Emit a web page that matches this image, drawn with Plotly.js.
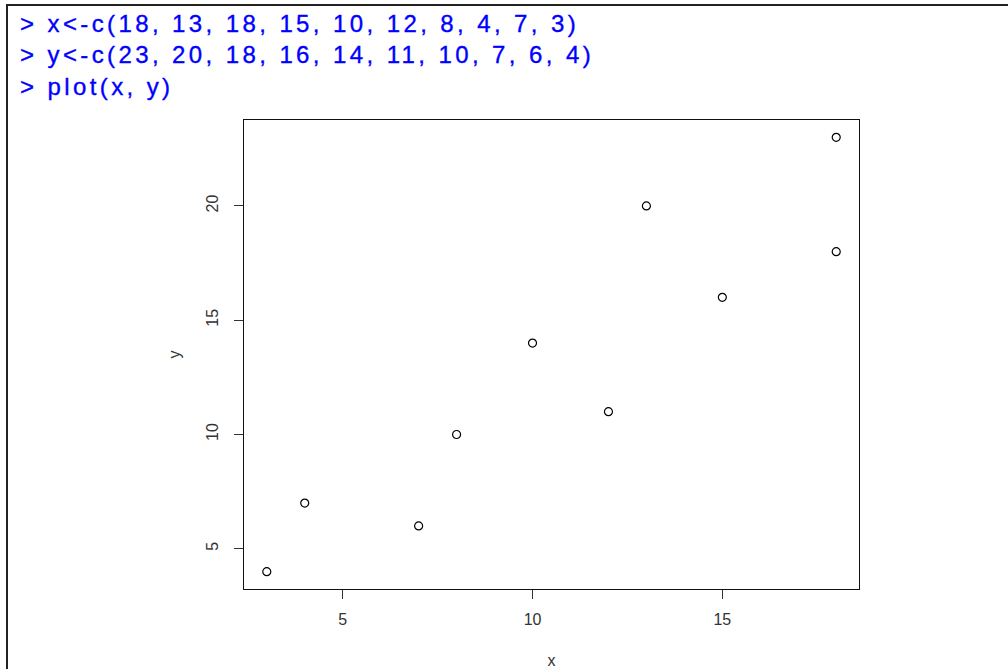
<!DOCTYPE html>
<html>
<head>
<meta charset="utf-8">
<script src="https://cdn.plot.ly/plotly-3.0.1.min.js"></script>
<style>
  html, body { margin: 0; padding: 0; background: #fff; }
  #wrap { position: relative; width: 1008px; height: 669px; }
  #chart { width: 1008px; height: 669px; }
  #frame { position: absolute; left: 6px; top: 4px; right: 0; bottom: 0;
           border-left: 2px solid #222; border-top: 2px solid #222; pointer-events: none; }
  #chart .annotation-text { letter-spacing: 3.4px; stroke: #0000ff; stroke-width: 0.35px; }
</style>
</head>
<body>
<div id="wrap">
  <div id="chart"></div>
  <div id="frame"></div>
</div>
<script>
// Data (as typed in the R console)
const xValues = [18, 13, 18, 15, 10, 12, 8, 4, 7, 3];
const yValues = [23, 20, 18, 16, 14, 11, 10, 7, 6, 4];
const xTicks = [5, 10, 15];
const yTicks = [5, 10, 15, 20];
const consoleLines = [
  "> x<-c(" + xValues.join(", ") + ")",
  "> y<-c(" + yValues.join(", ") + ")",
  "> plot(x, y)"
];

const W = 1008, H = 669;
const M = { l: 244, r: 149, t: 120, b: 80 };
const pw = W - M.l - M.r, ph = H - M.t - M.b;
const px = v => (v - M.l) / pw;
const py = v => (H - M.b - v) / ph;

// R-style 4% range extension
function rRange(arr) {
  const lo = Math.min(...arr), hi = Math.max(...arr), d = (hi - lo) * 0.04;
  return [lo - d, hi + d];
}

const FONT = 'Liberation Sans, Arial, sans-serif';

const trace = {
  x: xValues, y: yValues, type: 'scatter', mode: 'markers',
  marker: { symbol: 'circle-open', size: 8, color: '#000', line: { width: 1.2, color: '#000' } },
  hoverinfo: 'x+y'
};

const axisCommon = {
  showgrid: false, zeroline: false, showline: true, mirror: true,
  linecolor: '#111', linewidth: 1, ticks: 'outside', ticklen: 9, tickwidth: 1,
  tickcolor: '#333', tickfont: { family: FONT, size: 16, color: '#333' },
  tickmode: 'array'
};

const annotations = consoleLines.map((t, i) => ({
  text: t, xref: 'paper', yref: 'paper', x: px(18), y: py(23.5 + 31.5 * i),
  xanchor: 'left', yanchor: 'middle', align: 'left', showarrow: false,
  font: { family: FONT, size: 24, color: '#0000ff' }
}));

const layout = {
  width: W, height: H,
  margin: M,
  paper_bgcolor: '#fff', plot_bgcolor: '#fff',
  showlegend: false,
  xaxis: Object.assign({}, axisCommon, {
    range: rRange(xValues), tickvals: xTicks, ticktext: xTicks.map(String),
    ticklabelstandoff: 7,
    title: { text: 'x', standoff: 28, font: { family: FONT, size: 16, color: '#333' } }
  }),
  yaxis: Object.assign({}, axisCommon, {
    range: rRange(yValues), tickvals: yTicks, ticktext: yTicks.map(String),
    tickangle: -90, ticklabelstandoff: 10,
    title: { text: 'y', standoff: 18, font: { family: FONT, size: 16, color: '#333' } }
  }),
  annotations: annotations
};

Plotly.newPlot('chart', [trace], layout, { displayModeBar: false, staticPlot: true });
</script>
</body>
</html>
